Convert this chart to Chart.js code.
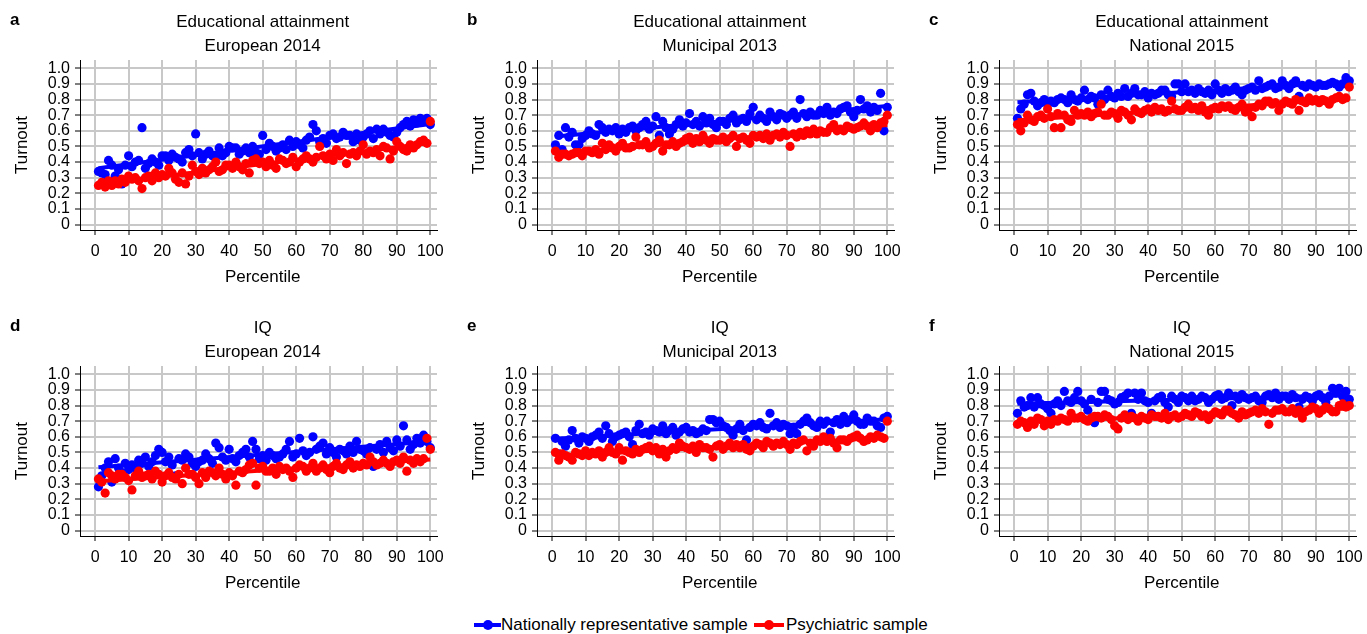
<!DOCTYPE html>
<html>
<head>
<meta charset="utf-8">
<script src="https://cdn.jsdelivr.net/npm/chart.js@4.4.1/dist/chart.umd.min.js"></script>
<style>
body { margin: 0; background: #fff; width: 1367px; height: 634px; position: relative; overflow: hidden; font-family: "Liberation Sans", Arial, sans-serif; }
.panel { position: absolute; width: 460px; height: 300px; }
.legend { position: absolute; top: 614px; height: 22px; font-size: 17px; line-height: 22px; color: #000; }
.mark { position: absolute; top: 9px; height: 4px; }
.mark::after { content: ""; position: absolute; left: 50%; top: -3px; width: 10px; height: 10px; margin-left: -5px; border-radius: 50%; background: inherit; }
</style>
</head>
<body>
<div class="panel" style="left:0px;top:0px"><canvas id="pa" width="460" height="300"></canvas></div>
<div class="panel" style="left:457px;top:0px"><canvas id="pb" width="460" height="300"></canvas></div>
<div class="panel" style="left:919px;top:0px"><canvas id="pc" width="460" height="300"></canvas></div>
<div class="panel" style="left:0px;top:306px"><canvas id="pd" width="460" height="300"></canvas></div>
<div class="panel" style="left:457px;top:306px"><canvas id="pe" width="460" height="300"></canvas></div>
<div class="panel" style="left:919px;top:306px"><canvas id="pf" width="460" height="300"></canvas></div>

<div class="legend" style="left:474px"><span class="mark" style="left:0;width:27px;background:rgb(0,0,255)"></span><span style="position:absolute;left:27px;white-space:nowrap">Nationally representative sample</span></div>
<div class="legend" style="left:754px"><span class="mark" style="left:0;width:30px;background:rgb(255,0,0)"></span><span style="position:absolute;left:32px;white-space:nowrap">Psychiatric sample</span></div>

<script>
const percentiles = Array.from({length: 100}, (_, i) => i + 1)
const xTicks = [0, 10, 20, 30, 40, 50, 60, 70, 80, 90, 100]
const yTicks = [0, 0.1, 0.2, 0.3, 0.4, 0.5, 0.6, 0.7, 0.8, 0.9, 1.0]
const seriesNames = ['Nationally representative sample', 'Psychiatric sample']

// a: Educational attainment, European 2014
const eduEuroNat = [
  .34,.33,.32,.41,.38,.31,.35,.26,.38,.44, .37,.40,.41,.62,.36,.39,.42,.40,.38,.44,
  .44,.41,.45,.43,.42,.40,.46,.48,.44,.58, .46,.42,.45,.47,.44,.43,.49,.44,.46,.50,
  .49,.49,.45,.47,.49,.46,.50,.46,.45,.57, .48,.52,.50,.47,.49,.51,.48,.54,.50,.53,
  .51,.49,.54,.56,.64,.60,.53,.55,.52,.57, .58,.55,.56,.59,.57,.57,.53,.58,.54,.56,
  .58,.60,.55,.61,.58,.61,.59,.57,.56,.59, .62,.64,.66,.63,.67,.65,.68,.66,.68,.64]
const eduEuroPsy = [
  .25,.27,.24,.28,.25,.28,.26,.29,.27,.31, .29,.30,.28,.23,.30,.31,.28,.33,.30,.32,
  .31,.36,.33,.29,.27,.33,.26,.31,.38,.34, .32,.36,.33,.35,.37,.40,.34,.35,.38,.38,
  .36,.40,.37,.35,.39,.33,.41,.42,.39,.40, .37,.41,.38,.36,.42,.41,.39,.40,.43,.37,
  .40,.42,.44,.42,.40,.43,.50,.44,.42,.45, .41,.48,.44,.46,.39,.45,.46,.44,.47,.51,
  .45,.47,.46,.48,.44,.50,.49,.42,.47,.53, .50,.48,.47,.51,.49,.51,.53,.54,.52,.66]

// b: Educational attainment, Municipal 2013
const eduMuniNat = [
  .51,.57,.48,.62,.56,.59,.51,.51,.55,.57, .60,.58,.57,.64,.62,.59,.61,.60,.62,.58,
  .61,.59,.62,.63,.60,.62,.64,.66,.61,.63, .69,.57,.66,.62,.58,.61,.64,.67,.63,.65,
  .71,.64,.66,.63,.69,.65,.68,.64,.62,.66, .66,.64,.68,.70,.65,.67,.68,.66,.71,.75,
  .67,.70,.68,.66,.72,.69,.67,.71,.70,.68, .70,.72,.68,.80,.71,.69,.72,.70,.70,.73,
  .71,.75,.70,.72,.71,.74,.75,.76,.72,.69, .73,.80,.74,.76,.72,.75,.73,.84,.60,.75]
const eduMuniPsy = [
  .47,.43,.45,.45,.44,.45,.46,.46,.44,.47, .47,.46,.48,.45,.52,.48,.51,.49,.47,.50,
  .52,.49,.49,.50,.56,.51,.51,.53,.49,.50, .52,.54,.47,.51,.51,.53,.50,.52,.53,.55,
  .56,.52,.55,.53,.57,.54,.52,.55,.54,.54, .56,.53,.55,.57,.50,.55,.56,.54,.52,.57,
  .56,.57,.55,.58,.54,.57,.58,.56,.59,.57, .50,.58,.56,.59,.57,.60,.58,.61,.58,.60,
  .59,.59,.62,.64,.60,.61,.60,.63,.62,.61, .62,.63,.65,.63,.60,.64,.62,.65,.66,.70]

// c: Educational attainment, National 2015
const eduNatlNat = [
  .68,.74,.77,.83,.84,.79,.76,.78,.80,.77, .79,.78,.80,.81,.80,.78,.83,.80,.79,.81,
  .86,.80,.82,.81,.77,.83,.80,.86,.82,.81, .84,.82,.87,.82,.84,.87,.83,.83,.85,.81,
  .84,.83,.84,.86,.86,.83,.82,.90,.90,.85, .90,.85,.86,.84,.87,.85,.84,.86,.83,.90,
  .86,.84,.87,.85,.86,.88,.85,.83,.86,.87, .88,.86,.92,.87,.88,.89,.90,.87,.88,.92,
  .89,.87,.90,.92,.82,.89,.88,.90,.89,.88, .90,.89,.89,.90,.91,.90,.88,.90,.94,.92]
const eduNatlPsy = [
  .64,.60,.65,.70,.67,.66,.69,.70,.68,.74, .69,.62,.71,.62,.70,.67,.66,.73,.70,.71,
  .70,.72,.69,.71,.72,.77,.70,.70,.72,.71, .68,.73,.72,.70,.67,.74,.72,.71,.73,.74,
  .72,.75,.73,.74,.72,.73,.79,.74,.73,.73, .75,.77,.74,.75,.73,.76,.72,.70,.74,.75,
  .74,.76,.75,.76,.74,.73,.75,.77,.72,.74, .69,.75,.77,.76,.79,.79,.77,.78,.73,.77,
  .79,.78,.77,.80,.73,.79,.78,.81,.79,.80, .78,.80,.79,.77,.80,.81,.82,.80,.81,.88]

// d: IQ, European 2014
const iqEuroNat = [
  .28,.35,.40,.44,.31,.46,.40,.37,.43,.39, .42,.40,.45,.43,.47,.41,.44,.48,.52,.50,
  .44,.47,.42,.35,.46,.45,.49,.47,.43,.41, .44,.45,.49,.46,.43,.56,.53,.47,.45,.52,
  .46,.44,.48,.50,.52,.47,.57,.52,.46,.48, .45,.50,.48,.46,.47,.49,.52,.57,.47,.49,
  .59,.51,.48,.50,.60,.52,.54,.56,.49,.53, .50,.47,.52,.51,.49,.54,.50,.57,.52,.51,
  .49,.53,.41,.52,.55,.50,.57,.53,.51,.58, .54,.67,.58,.52,.55,.59,.56,.61,.57,.53]
const iqEuroPsy = [
  .33,.31,.24,.37,.35,.33,.36,.36,.34,.32, .26,.35,.38,.34,.35,.36,.33,.38,.36,.31,
  .35,.37,.34,.33,.36,.30,.40,.36,.36,.34, .30,.37,.34,.38,.37,.35,.40,.36,.33,.37,
  .35,.29,.38,.37,.39,.42,.43,.29,.40,.41, .38,.38,.40,.36,.41,.39,.40,.38,.34,.40,
  .42,.41,.38,.40,.43,.38,.40,.42,.39,.37, .41,.43,.40,.39,.42,.44,.40,.42,.41,.43,
  .42,.47,.44,.42,.43,.45,.43,.41,.44,.45, .43,.47,.38,.45,.43,.46,.44,.46,.59,.52]

// e: IQ, Municipal 2013
const iqMuniNat = [
  .59,.49,.57,.54,.58,.64,.59,.56,.60,.59, .57,.60,.61,.63,.59,.67,.62,.57,.60,.61,
  .62,.63,.60,.55,.64,.68,.62,.63,.61,.65, .64,.63,.67,.62,.64,.66,.61,.63,.65,.66,
  .63,.64,.62,.63,.65,.64,.71,.71,.69,.70, .67,.66,.64,.61,.65,.68,.64,.58,.66,.68,
  .67,.69,.66,.65,.75,.67,.69,.66,.68,.67, .62,.66,.62,.68,.70,.72,.69,.67,.66,.70,
  .68,.70,.63,.69,.71,.68,.73,.69,.71,.74, .70,.68,.68,.72,.70,.70,.67,.66,.72,.73]
const iqMuniPsy = [
  .50,.45,.49,.48,.47,.45,.50,.49,.48,.51, .48,.50,.49,.51,.47,.50,.53,.50,.49,.53,
  .45,.51,.50,.49,.52,.50,.52,.53,.54,.51, .53,.49,.52,.47,.51,.53,.52,.56,.54,.53,
  .52,.54,.50,.55,.53,.53,.52,.47,.54,.55, .52,.54,.56,.53,.55,.53,.55,.52,.51,.54,
  .56,.55,.53,.57,.56,.54,.56,.55,.57,.55, .52,.56,.55,.57,.58,.51,.56,.54,.58,.57,
  .60,.57,.59,.56,.53,.58,.58,.57,.59,.60, .61,.59,.57,.58,.60,.59,.61,.60,.59,.70]

// f: IQ, National 2015
const iqNatlNat = [
  .75,.83,.79,.80,.85,.79,.85,.81,.80,.78, .75,.81,.83,.80,.89,.83,.82,.85,.89,.83,
  .81,.77,.84,.69,.82,.89,.89,.84,.83,.81, .82,.85,.86,.88,.75,.88,.84,.88,.83,.82,
  .75,.83,.85,.86,.82,.79,.86,.84,.82,.86, .85,.83,.86,.83,.84,.86,.85,.82,.84,.86,
  .87,.84,.85,.88,.80,.86,.84,.87,.85,.84, .85,.86,.83,.82,.86,.87,.85,.88,.84,.86,
  .86,.84,.87,.85,.79,.84,.86,.85,.83,.86, .87,.85,.82,.86,.91,.88,.91,.86,.89,.84]
const iqNatlPsy = [
  .68,.70,.69,.66,.70,.68,.72,.71,.67,.70, .68,.71,.70,.72,.71,.70,.75,.72,.72,.73,
  .71,.70,.72,.73,.73,.72,.74,.73,.71,.67, .65,.72,.74,.71,.73,.72,.70,.73,.72,.71,
  .74,.73,.73,.72,.75,.71,.73,.74,.72,.73, .75,.74,.73,.76,.75,.73,.74,.71,.74,.76,
  .75,.74,.77,.77,.75,.74,.72,.76,.74,.75, .76,.77,.75,.78,.76,.68,.75,.77,.77,.78,
  .76,.76,.78,.75,.77,.72,.76,.77,.79,.78, .75,.77,.79,.78,.76,.76,.80,.81,.79,.80]

const BLUE = 'rgb(0,0,255)'
const RED = 'rgb(255,0,0)'
const GRID = 'rgb(200,200,200)'
Chart.defaults.font.family = '"Liberation Sans", Arial, sans-serif'
Chart.defaults.color = '#000'

function points(ys) {
  return ys.map((y, i) => ({x: percentiles[i], y: y}))
}

// least squares fit, drawn from first to last percentile
function fitLine(ys) {
  const n = ys.length
  let sx = 0, sy = 0, sxx = 0, sxy = 0
  ys.forEach((y, i) => {
    const x = percentiles[i]
    sx += x; sy += y; sxx += x * x; sxy += x * y
  })
  const b = (n * sxy - sx * sy) / (n * sxx - sx * sx)
  const a = (sy - b * sx) / n
  const x0 = percentiles[0], x1 = percentiles[n - 1]
  return [{x: x0, y: a + b * x0}, {x: x1, y: a + b * x1}]
}

const panelText = {
  id: 'panelText',
  afterDraw(chart, args, opts) {
    const ctx = chart.ctx
    const area = chart.chartArea
    const cx = chart.scales.x.getPixelForValue(50)
    ctx.save()
    ctx.fillStyle = '#000'
    ctx.textBaseline = 'middle'
    ctx.font = 'bold 17px "Liberation Sans", Arial, sans-serif'
    ctx.textAlign = 'left'
    ctx.fillText(opts.letter, area.left - 70, 20)
    ctx.font = '17px "Liberation Sans", Arial, sans-serif'
    ctx.textAlign = 'center'
    ctx.fillText(opts.title[0], cx, 22)
    ctx.fillText(opts.title[1], cx, 46)
    ctx.fillText('Percentile', cx, 277)
    ctx.translate(area.left - 58, (area.top + area.bottom) / 2)
    ctx.rotate(-Math.PI / 2)
    ctx.fillText('Turnout', 0, 0)
    ctx.restore()
  }
}

function makePanel(id, letter, title, natVals, psyVals) {
  new Chart(document.getElementById(id), {
    type: 'scatter',
    data: {
      datasets: [
        {label: seriesNames[0], data: points(natVals), backgroundColor: BLUE, borderColor: BLUE,
         pointRadius: 4.6, borderWidth: 0, order: 4},
        {type: 'line', data: fitLine(natVals), borderColor: BLUE, borderWidth: 4,
         pointRadius: 0, fill: false, order: 3},
        {label: seriesNames[1], data: points(psyVals), backgroundColor: RED, borderColor: RED,
         pointRadius: 4.6, borderWidth: 0, order: 2},
        {type: 'line', data: fitLine(psyVals), borderColor: RED, borderWidth: 4,
         pointRadius: 0, fill: false, order: 1}
      ]
    },
    options: {
      responsive: false,
      animation: false,
      events: [],
      layout: {padding: {top: 60, right: 23, bottom: 0, left: 0}},
      plugins: {
        legend: {display: false},
        tooltip: {enabled: false},
        panelText: {letter: letter, title: title}
      },
      scales: {
        x: {
          type: 'linear', min: -4.5, max: 102,
          afterBuildTicks: s => { s.ticks = xTicks.map(v => ({value: v})) },
          afterFit: s => { s.height = 70 },
          ticks: {font: {size: 16}, padding: 7, maxRotation: 0, autoSkip: false},
          grid: {color: GRID, lineWidth: 2, tickColor: '#000', tickWidth: 1, tickLength: 5},
          border: {color: '#000', width: 1}
        },
        y: {
          type: 'linear', min: -0.035, max: 1.053,
          afterBuildTicks: s => { s.ticks = yTicks.map(v => ({value: v})) },
          afterFit: s => { s.width = 80 },
          ticks: {font: {size: 16}, padding: 5, autoSkip: false,
                  callback: v => v === 0 ? '0' : v.toFixed(1)},
          grid: {color: GRID, lineWidth: 2, tickColor: '#000', tickWidth: 1, tickLength: 5},
          border: {color: '#000', width: 1}
        }
      }
    },
    plugins: [panelText]
  })
}

makePanel('pa', 'a', ['Educational attainment', 'European 2014'], eduEuroNat, eduEuroPsy)
makePanel('pb', 'b', ['Educational attainment', 'Municipal 2013'], eduMuniNat, eduMuniPsy)
makePanel('pc', 'c', ['Educational attainment', 'National 2015'], eduNatlNat, eduNatlPsy)
makePanel('pd', 'd', ['IQ', 'European 2014'], iqEuroNat, iqEuroPsy)
makePanel('pe', 'e', ['IQ', 'Municipal 2013'], iqMuniNat, iqMuniPsy)
makePanel('pf', 'f', ['IQ', 'National 2015'], iqNatlNat, iqNatlPsy)
</script>
</body>
</html>
